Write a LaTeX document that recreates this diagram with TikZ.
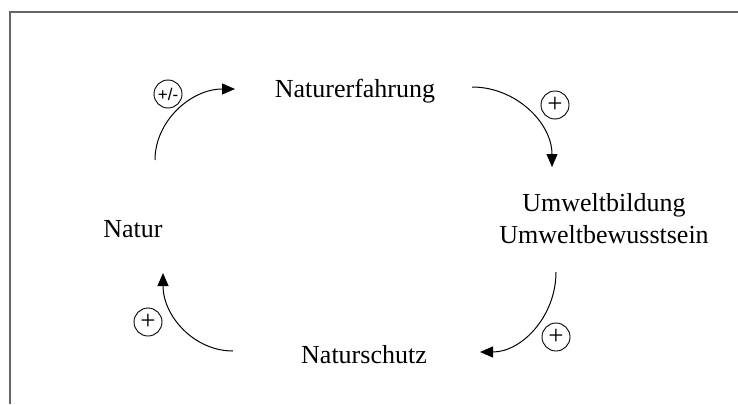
\documentclass[tikz,border=0pt]{standalone}
\usepackage{fontspec}
\setmainfont{Liberation Serif}
\newfontfamily\signfont{Liberation Sans}
\usetikzlibrary{arrows.meta}
\tikzset{
  term/.style={font=\fontsize{26}{32}\selectfont, inner sep=0pt, align=center},
  sign/.style={draw, circle, line width=0.9pt, minimum size=28pt, inner sep=0pt},
  plus/.style={sign, font=\fontsize{27}{27}\selectfont},
  flow/.style={line width=1pt, -{Triangle[length=13pt,width=11pt]}},
  frame/.style={draw=black!60, line width=1.6pt}
}
\begin{document}
\begin{tikzpicture}[x=1pt,y=-1pt]
\useasboundingbox (0,0) rectangle (738,404);
\fill[white] (0,0) rectangle (738,404);
% open frame: top and left edges only
\draw[frame] (10,404) -- (10,12) -- (738,12);

% terms of the cycle
\node[term, anchor=base] (erf) at (355,97) {Naturerfahrung};
\node[term] (bild) at (604,219) {Umweltbildung\\Umweltbewusstsein};
\node[term, anchor=base] (natur) at (133,237) {Natur};
\node[term, anchor=base] (schutz) at (364,363) {Naturschutz};

% end points of the curved arrows
\coordinate (a1s) at (155,160); \coordinate (a1e) at (235,89);
\coordinate (a2s) at (472,87);  \coordinate (a2e) at (552,167);
\coordinate (a3s) at (556,272); \coordinate (a3e) at (480,352);
\coordinate (a4s) at (233,351); \coordinate (a4e) at (163,273);

\draw[flow] (a1s) .. controls (155,121) and (191,89) .. (a1e);
\draw[flow] (a2s) .. controls (516,87) and (552,123) .. (a2e);
\draw[flow] (a3s) .. controls (556,316) and (522,352) .. (a3e);
\draw[flow] (a4s) .. controls (194,351) and (163,316) .. (a4e);

% polarity marks
\node[sign, font=\signfont\fontsize{17}{17}\selectfont] (s1) at (168,94) {+/-};
\node[plus] (s2) at (555,105) {+};
\node[plus] (s3) at (556,337) {+};
\node[plus] (s4) at (148,322) {+};
\end{tikzpicture}
\end{document}
